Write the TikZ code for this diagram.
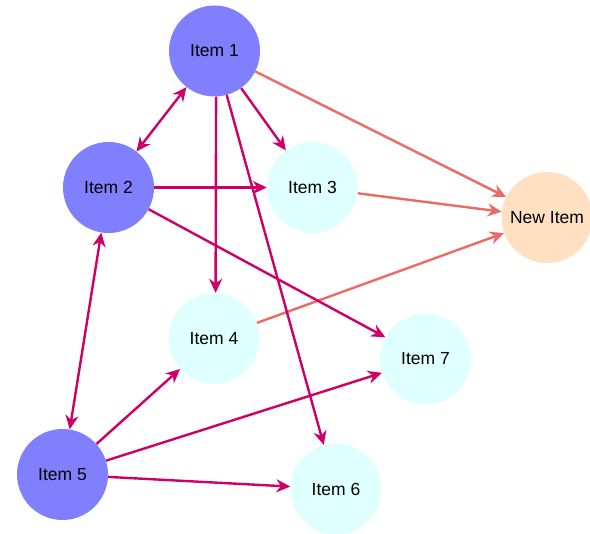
\documentclass[tikz,border=0pt]{standalone}
\usepackage{fontspec}
\setmainfont{Liberation Sans}
\usetikzlibrary{arrows.meta}
\definecolor{darkfill}{HTML}{8080FF}
\definecolor{lightfill}{HTML}{E0FFFF}
\definecolor{newfill}{HTML}{FFE0C2}
\definecolor{mag}{HTML}{CC0066}
\definecolor{salmon}{HTML}{EA6B66}
\tikzset{
  item/.style={circle, minimum size=91pt, inner sep=0pt, font=\fontsize{17.5}{19}\selectfont},
  darkitem/.style={item, fill=darkfill},
  lightitem/.style={item, fill=lightfill},
  newitem/.style={item, fill=newfill},
  tip/.style={Stealth[length=14pt,width=13pt,inset=4.5pt]},
  magedge/.style={draw=mag, line width=2.4pt, -{Stealth[length=14pt,width=13pt,inset=4.5pt]}},
  magboth/.style={draw=mag, line width=2.4pt, {Stealth[length=14pt,width=13pt,inset=4.5pt]}-{Stealth[length=14pt,width=13pt,inset=4.5pt]}},
  saledge/.style={draw=salmon, line width=2.4pt, -{Stealth[length=14pt,width=13pt,inset=4.5pt]}}
}
\begin{document}
\begin{tikzpicture}[x=1pt,y=-1pt]
\useasboundingbox (0,0) rectangle (590,534);
\node[darkitem] (n1) at (214.5,51) {Item 1};
\node[darkitem] (n2) at (108.5,187.5) {Item 2};
\node[lightitem] (n3) at (312.5,187.5) {Item 3};
\node[newitem] (nn) at (547,217.5) {New Item};
\node[lightitem] (n4) at (214,338.5) {Item 4};
\node[lightitem] (n7) at (425.5,359) {Item 7};
\node[darkitem] (n5) at (62.5,474.5) {Item 5};
\node[lightitem] (n6) at (336,489) {Item 6};
\draw[saledge] (n1) -- (nn);
\draw[saledge] (n3) -- (nn);
\draw[saledge] (n4) -- (nn);
\draw[magboth] (n1) -- (n2);
\draw[magedge] (n1) -- (n3);
\draw[magedge] (n1.-88) -- (n4.88);
\draw[magedge] (n1) -- (n6);
\draw[magedge] (n2) -- (n3);
\draw[magedge] (n2) -- (n7);
\draw[magboth] (n2) -- (n5);
\draw[magedge] (n5) -- (n4);
\draw[magedge] (n5) -- (n7);
\draw[magedge] (n5) -- (n6);
\end{tikzpicture}
\end{document}
